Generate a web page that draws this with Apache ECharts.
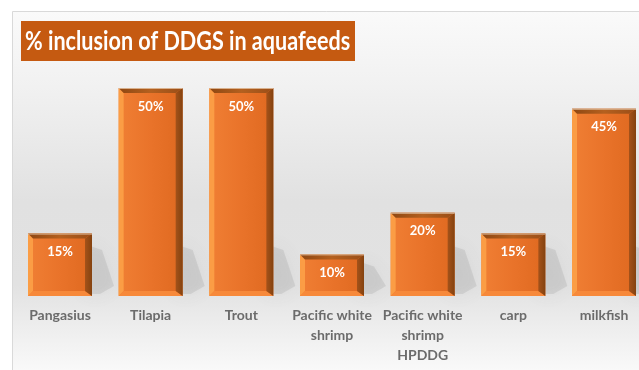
<!DOCTYPE html>
<html>
<head>
<meta charset="utf-8">
<script src="https://cdn.jsdelivr.net/npm/echarts@6/dist/echarts.min.js"></script>
<style>
  html, body { margin: 0; padding: 0; background: #ffffff; }
  #chart { width: 639px; height: 370px; }
</style>
</head>
<body>
<div id="chart"></div>
<script>
// DDGS inclusion levels by species
const categories = ['Pangasius', 'Tilapia', 'Trout', 'Pacific white\nshrimp', 'Pacific white\nshrimp\nHPDDG', 'carp', 'milkfish'];
const inclusion = [15, 50, 50, 10, 20, 15, 45];
const titleText = '% inclusion of DDGS in aquafeeds';

const FONT = 'Lato, "Open Sans", sans-serif';

// Bevelled 3D-looking column drawn through the axis scales
function renderBevelBar(params, api) {
  const idx = api.value(0);
  const v = api.value(1);
  const top = api.coord([idx, v]);
  const base = api.coord([idx, 0]);
  const w = 64;
  const cx = top[0];
  const x0 = cx - w / 2, x1 = cx + w / 2;
  const y0 = top[1], y1 = base[1];
  const h = y1 - y0;
  const bl = 5, br = 7, bt = 5, bb = 5;
  const sh = Math.min(h, 58);

  return {
    type: 'group',
    children: [
      // soft cast shadow to the right
      {
        type: 'polygon',
        shape: { points: [[x1 - 8, y1 - 2], [x1 - 8, y1 - sh + 6], [x1 + 10, y1 - sh + 12], [x1 + 22, y1 - 10], [x1 + 8, y1 - 2]] },
        style: { fill: 'rgba(120,120,120,0.16)', shadowBlur: 18, shadowColor: 'rgba(100,100,100,0.5)' },
        z2: 0
      },
      // face
      {
        type: 'rect',
        shape: { x: x0, y: y0, width: w, height: h },
        style: {
          fill: new echarts.graphic.LinearGradient(0, 0, 1, 0, [
            { offset: 0, color: '#f07f34' },
            { offset: 0.5, color: '#e9732a' },
            { offset: 1, color: '#df6920' }
          ])
        },
        z2: 1
      },
      // left bevel
      {
        type: 'polygon',
        shape: { points: [[x0, y0], [x0 + bl, y0 + bt], [x0 + bl, y1 - bb], [x0, y1]] },
        style: { fill: '#fb9d45' },
        z2: 2
      },
      // bottom bevel
      {
        type: 'polygon',
        shape: { points: [[x0, y1], [x0 + bl, y1 - bb], [x1 - br, y1 - bb], [x1, y1]] },
        style: { fill: '#f7893a' },
        z2: 2
      },
      // right bevel
      {
        type: 'polygon',
        shape: { points: [[x1, y0], [x1, y1], [x1 - br, y1 - bb], [x1 - br, y0 + bt]] },
        style: {
          fill: new echarts.graphic.LinearGradient(0, 0, 1, 0, [
            { offset: 0, color: '#a4521a' },
            { offset: 1, color: '#84420f' }
          ])
        },
        z2: 2
      },
      // top bevel
      {
        type: 'polygon',
        shape: { points: [[x0, y0], [x1, y0], [x1 - br, y0 + bt], [x0 + bl, y0 + bt]] },
        style: {
          fill: new echarts.graphic.LinearGradient(0, 0, 1, 0, [
            { offset: 0, color: '#8e4712' },
            { offset: 0.5, color: '#b4601f' },
            { offset: 1, color: '#9a4e18' }
          ])
        },
        z2: 2
      },
      // top highlight edge
      {
        type: 'line',
        shape: { x1: x0, y1: y0 + 0.5, x2: x1, y2: y0 + 0.5 },
        style: { stroke: 'rgba(230,200,170,0.8)', lineWidth: 1 },
        z2: 3
      },
      // value label
      {
        type: 'text',
        style: {
          text: v + '%',
          x: cx,
          y: y0 + 12,
          align: 'center',
          verticalAlign: 'top',
          fill: '#ffffff',
          font: 'bold 13px ' + FONT
        },
        z2: 4
      }
    ]
  };
}

const chart = echarts.init(document.getElementById('chart'), null, { renderer: 'canvas' });

chart.setOption({
  animation: false,
  backgroundColor: '#ffffff',
  graphic: {
    elements: [
      {
        type: 'rect',
        z: -10,
        shape: { x: 12.5, y: 11.5, width: 650, height: 380 },
        style: {
          stroke: '#d9d9d9',
          lineWidth: 1,
          fill: new echarts.graphic.LinearGradient(0, 0, 0, 1, [
            { offset: 0, color: '#fafafa' },
            { offset: 0.2, color: '#f1f1f1' },
            { offset: 0.5, color: '#e1e1e1' },
            { offset: 0.72, color: '#e2e2e2' },
            { offset: 1, color: '#ffffff' }
          ])
        }
      },
      {
        type: 'rect',
        z: 10,
        shape: { x: 21, y: 21, width: 334, height: 40 },
        style: { fill: '#c55a11' }
      },
      {
        type: 'text',
        z: 11,
        x: 25,
        y: 42,
        scaleX: 0.83,
        style: {
          text: titleText,
          x: 0,
          y: 0,
          align: 'left',
          verticalAlign: 'middle',
          fill: '#ffffff',
          font: 'bold 26px ' + FONT
        }
      }
    ]
  },
  grid: { left: 60, right: 35, top: 88, height: 208 },
  xAxis: {
    type: 'category',
    data: categories,
    boundaryGap: false,
    axisLine: { show: false },
    axisTick: { show: false },
    axisLabel: {
      interval: 0,
      color: '#6b6b6b',
      fontWeight: 'bold',
      fontFamily: FONT,
      fontSize: 14,
      lineHeight: 20,
      margin: 9
    }
  },
  yAxis: {
    type: 'value',
    min: 0,
    max: 50,
    show: false
  },
  series: [
    {
      type: 'custom',
      renderItem: renderBevelBar,
      encode: { x: 0, y: 1 },
      data: inclusion.map((v, i) => [i, v]),
      clip: false
    }
  ]
});
</script>
</body>
</html>
